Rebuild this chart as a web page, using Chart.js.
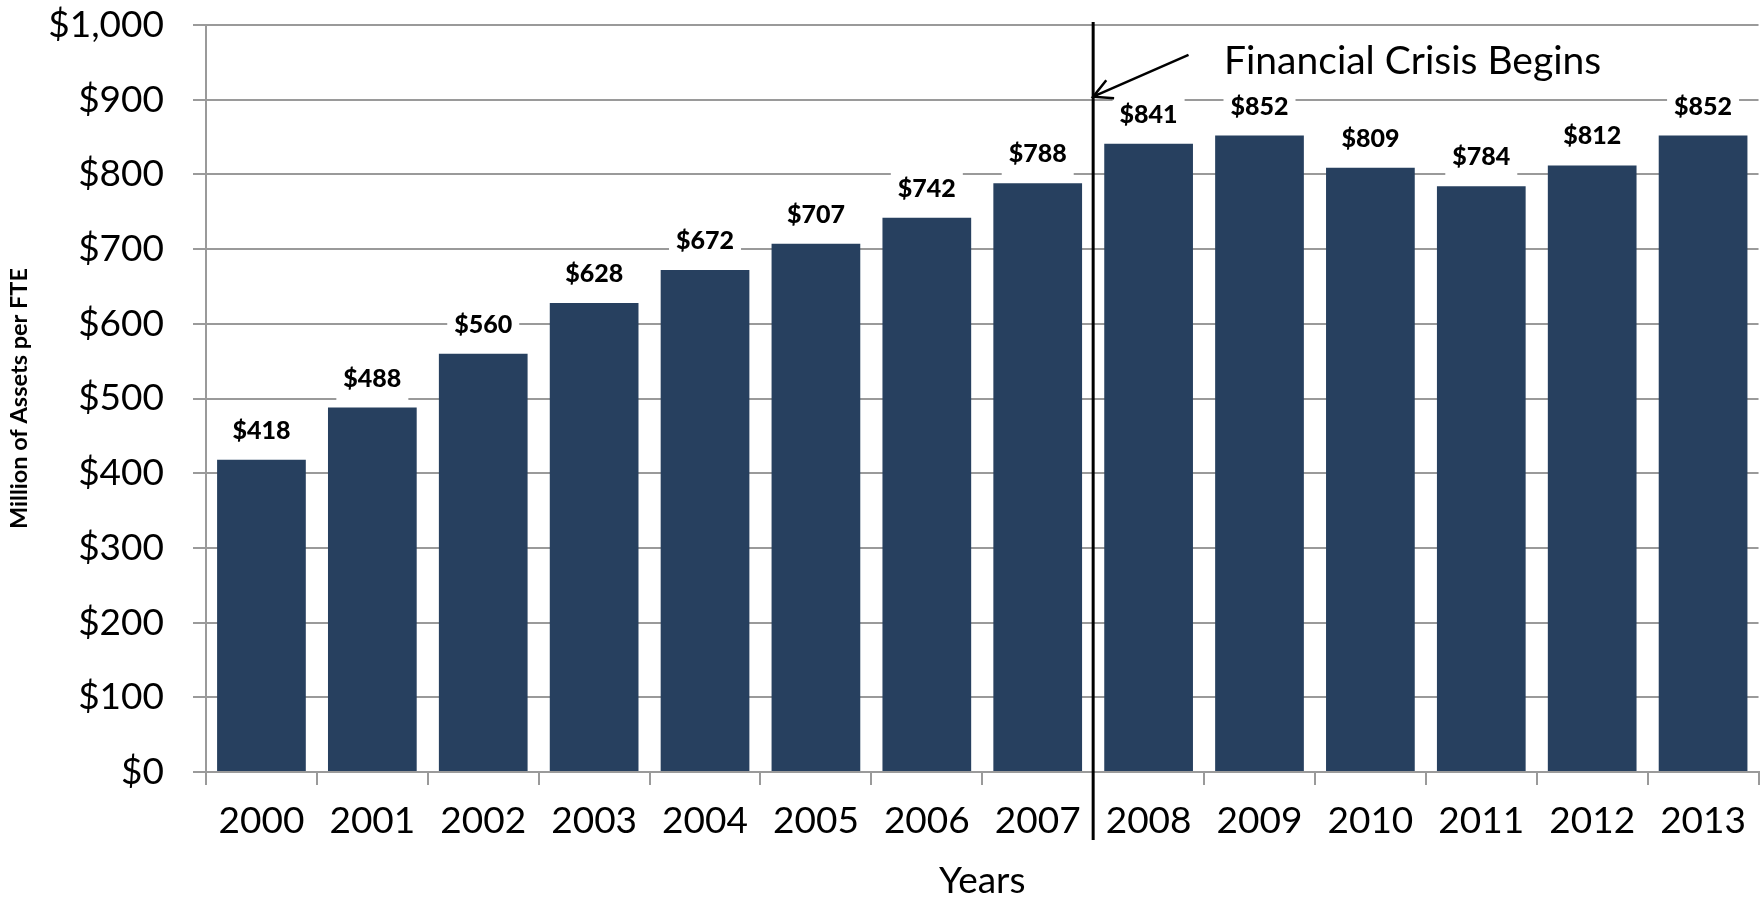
<!DOCTYPE html>
<html><head><meta charset="utf-8">
<script src="https://cdn.jsdelivr.net/npm/chart.js@4.4.0/dist/chart.umd.min.js"></script>
<style>html,body{margin:0;padding:0;background:#fff;}canvas{display:block;}</style>
</head><body>
<canvas id="c" width="1760" height="902"></canvas>
<script>
const categories = ['2000','2001','2002','2003','2004','2005','2006','2007','2008','2009','2010','2011','2012','2013'];
const assetsPerFTE = [418,488,560,628,672,707,742,788,841,852,809,784,812,852];
const yTickValues = [0,100,200,300,400,500,600,700,800,900,1000];
const yTickLabels = ['$0','$100','$200','$300','$400','$500','$600','$700','$800','$900','$1,000'];
const barLabels = ['$418','$488','$560','$628','$672','$707','$742','$788','$841','$852','$809','$784','$812','$852'];
const annotationText = 'Financial Crisis Begins';
const crisisBoundary = 7.5;           // between 2007 and 2008 (category index space)
const arrowTail = {x: 8.36, y: 960};  // data space
const arrowTip = {x: 7.5, y: 904};
const textAnchor = {x: 8.68, y: 934}; // left / baseline of annotation text

const GRID = '#9a9a9a';
const BAR = '#27405f';

const labelPlugin = {
  id: 'barLabels',
  afterDatasetsDraw(chart) {
    const ctx = chart.ctx;
    const meta = chart.getDatasetMeta(0);
    ctx.save();
    ctx.font = '900 25px Lato';
    ctx.textAlign = 'center';
    ctx.textBaseline = 'middle';
    meta.data.forEach((bar, i) => {
      const cx = bar.x, cy = bar.y - 29;
      ctx.fillStyle = '#ffffff';
      ctx.fillRect(cx - 36, cy - 22, 72, 44);
      ctx.fillStyle = '#000000';
      ctx.fillText(barLabels[i], cx, cy);
    });
    ctx.restore();
  }
};

const annotationPlugin = {
  id: 'crisis',
  afterDraw(chart) {
    const ctx = chart.ctx;
    const xs = chart.scales.x, ys = chart.scales.y;
    const px = v => xs.getPixelForValue(v);
    const lineX = px(crisisBoundary);
    ctx.save();
    ctx.strokeStyle = '#000';
    ctx.lineWidth = 3;
    ctx.beginPath();
    ctx.moveTo(lineX, ys.getPixelForValue(1000) - 3);
    ctx.lineTo(lineX, chart.chartArea.bottom + 68);
    ctx.stroke();
    // arrow
    const tx = px(arrowTail.x), ty = ys.getPixelForValue(arrowTail.y);
    const hx = px(arrowTip.x), hy = ys.getPixelForValue(arrowTip.y);
    ctx.lineWidth = 2.5;
    ctx.beginPath();
    ctx.moveTo(tx, ty);
    ctx.lineTo(hx, hy);
    const ang = Math.atan2(ty - hy, tx - hx);
    const len = 21, spread = Math.PI / 6.5;
    ctx.moveTo(hx + len * Math.cos(ang + spread), hy + len * Math.sin(ang + spread));
    ctx.lineTo(hx, hy);
    ctx.lineTo(hx + len * Math.cos(ang - spread), hy + len * Math.sin(ang - spread));
    ctx.stroke();
    ctx.fillStyle = '#000';
    ctx.font = '39px Lato';
    ctx.textAlign = 'left';
    ctx.textBaseline = 'alphabetic';
    ctx.fillText(annotationText, px(textAnchor.x), ys.getPixelForValue(textAnchor.y));
    ctx.restore();
  }
};

new Chart(document.getElementById('c'), {
  type: 'bar',
  data: {
    labels: categories,
    datasets: [{
      data: assetsPerFTE,
      backgroundColor: BAR,
      borderWidth: 0,
      barPercentage: 0.8,
      categoryPercentage: 1.0
    }]
  },
  options: {
    responsive: false,
    devicePixelRatio: 1,
    animation: false,
    layout: {padding: {left: 0, right: 0, top: 0, bottom: 0}},
    plugins: {legend: {display: false}, tooltip: {enabled: false}},
    scales: {
      x: {
        afterFit(s) { s.height = 130; },
        grid: {display: true, drawOnChartArea: false, drawTicks: true, tickLength: 13, color: GRID, lineWidth: 2, offset: true},
        border: {display: true, color: GRID, width: 2},
        ticks: {color: '#000', font: {family: 'Lato', size: 37}, padding: 14, maxRotation: 0, autoSkip: false},
        title: {display: true, text: 'Years', color: '#000', font: {family: 'Lato', size: 37, lineHeight: 1}, padding: {top: 0, bottom: 2}}
      },
      y: {
        min: 0, max: 1000,
        afterFit(s) { s.width = 206; s.paddingTop = 25; s.paddingBottom = 0; },
        afterBuildTicks(s) { s.ticks = yTickValues.map(v => ({value: v})); },
        grid: {color: GRID, lineWidth: 2, tickLength: 13, drawTicks: true},
        border: {display: true, color: GRID, width: 2},
        ticks: {color: '#000', font: {family: 'Lato', size: 37}, padding: 29,
          callback: (v) => yTickLabels[yTickValues.indexOf(v)]},
        title: {display: true, text: 'Million of Assets per FTE', color: '#000', font: {family: 'Lato', size: 23.5, weight: 'bold', lineHeight: 1}, padding: {top: 8, bottom: 0}}
      }
    }
  },
  plugins: [labelPlugin, annotationPlugin]
});
</script>
</body></html>
